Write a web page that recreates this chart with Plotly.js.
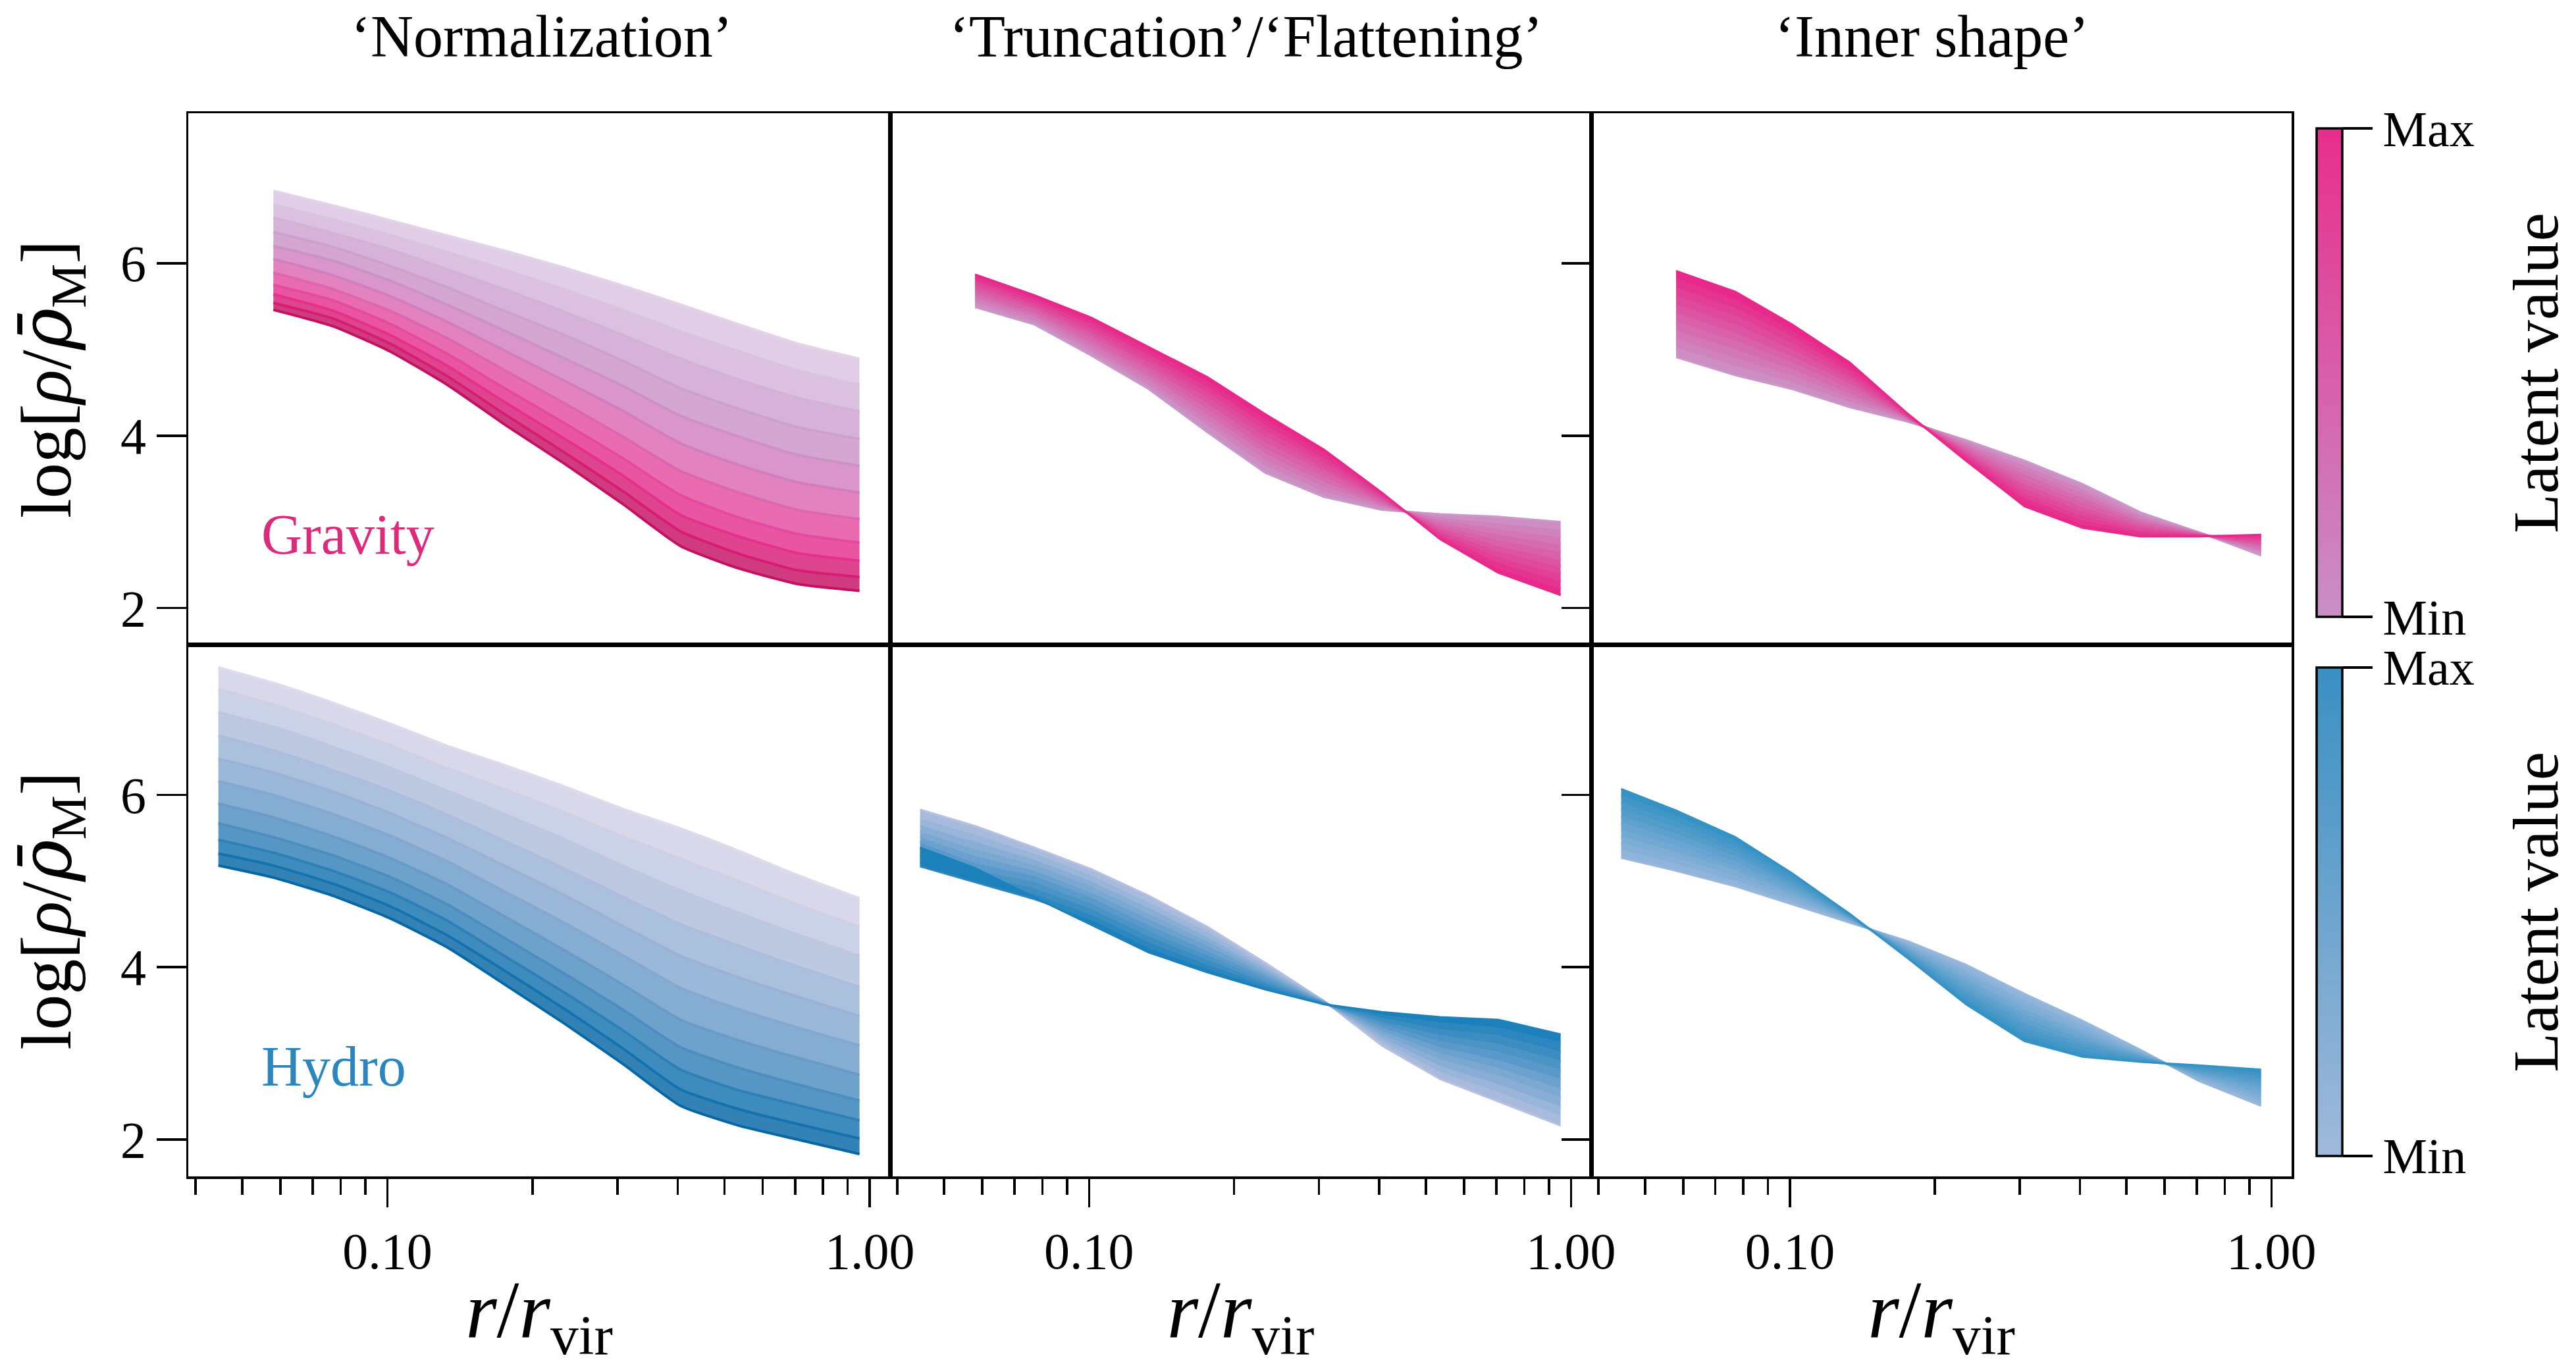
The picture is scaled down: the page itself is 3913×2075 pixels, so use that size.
<!DOCTYPE html>
<html>
<head>
<meta charset="utf-8">
<script src="https://cdn.plot.ly/plotly-3.0.1.min.js"></script>
<style>
  html, body { margin: 0; padding: 0; background: #fff; }
  #chart { width: 3913px; height: 2075px; }
</style>
</head>
<body>
<div id="chart"></div>
<script>
// Radial sampling points (r / r_vir) of the decoded density profiles
const rGravity = [0.058, 0.077, 0.101, 0.133, 0.176, 0.232, 0.307, 0.405, 0.535, 0.706, 0.952];
const rHydro = [0.0446, 0.058, 0.077, 0.101, 0.133, 0.176, 0.232, 0.307, 0.405, 0.535, 0.706, 0.952];

// log[rho / rho_M] profiles, one row per latent value from Min to Max
const gravityNormalization = [
  [6.84, 6.67, 6.50, 6.32, 6.14, 5.95, 5.74, 5.52, 5.29, 5.07, 4.89],
  [6.68, 6.51, 6.33, 6.13, 5.92, 5.70, 5.46, 5.21, 4.98, 4.76, 4.59],
  [6.53, 6.35, 6.16, 5.93, 5.69, 5.44, 5.17, 4.89, 4.65, 4.44, 4.28],
  [6.36, 6.19, 5.97, 5.72, 5.44, 5.17, 4.87, 4.55, 4.31, 4.10, 3.96],
  [6.20, 6.03, 5.80, 5.52, 5.21, 4.90, 4.58, 4.23, 3.99, 3.78, 3.65],
  [6.05, 5.86, 5.62, 5.32, 4.98, 4.64, 4.29, 3.91, 3.66, 3.46, 3.34],
  [5.89, 5.70, 5.45, 5.13, 4.75, 4.38, 3.99, 3.59, 3.34, 3.14, 3.03],
  [5.75, 5.57, 5.30, 4.95, 4.54, 4.15, 3.74, 3.31, 3.05, 2.86, 2.76],
  [5.64, 5.45, 5.17, 4.81, 4.38, 3.97, 3.54, 3.08, 2.83, 2.64, 2.55],
  [5.54, 5.36, 5.07, 4.69, 4.24, 3.81, 3.36, 2.89, 2.63, 2.44, 2.36],
  [5.46, 5.27, 4.98, 4.59, 4.12, 3.68, 3.21, 2.72, 2.46, 2.28, 2.20]
];
const gravityTruncation = [
  [5.49, 5.29, 4.93, 4.54, 4.04, 3.57, 3.29, 3.14, 3.09, 3.06, 3.00],
  [5.53, 5.32, 4.97, 4.58, 4.11, 3.64, 3.34, 3.16, 3.06, 2.99, 2.92],
  [5.57, 5.36, 5.01, 4.63, 4.17, 3.71, 3.40, 3.18, 3.03, 2.93, 2.83],
  [5.60, 5.39, 5.06, 4.68, 4.23, 3.78, 3.45, 3.20, 3.00, 2.86, 2.75],
  [5.64, 5.42, 5.10, 4.73, 4.30, 3.84, 3.51, 3.22, 2.97, 2.80, 2.66],
  [5.68, 5.46, 5.15, 4.78, 4.36, 3.91, 3.57, 3.24, 2.94, 2.73, 2.57],
  [5.72, 5.49, 5.19, 4.83, 4.43, 3.98, 3.62, 3.26, 2.91, 2.67, 2.49],
  [5.76, 5.52, 5.23, 4.88, 4.49, 4.05, 3.68, 3.28, 2.88, 2.60, 2.40],
  [5.79, 5.56, 5.28, 4.93, 4.55, 4.11, 3.73, 3.30, 2.85, 2.54, 2.32],
  [5.83, 5.59, 5.32, 4.98, 4.62, 4.18, 3.79, 3.32, 2.83, 2.47, 2.23],
  [5.87, 5.63, 5.37, 5.03, 4.68, 4.25, 3.84, 3.34, 2.80, 2.41, 2.15]
];
const gravityInnerShape = [
  [4.91, 4.70, 4.54, 4.33, 4.16, 3.95, 3.71, 3.44, 3.11, 2.88, 2.61],
  [5.01, 4.80, 4.61, 4.38, 4.17, 3.93, 3.66, 3.39, 3.08, 2.88, 2.64],
  [5.11, 4.89, 4.69, 4.43, 4.18, 3.91, 3.61, 3.34, 3.05, 2.87, 2.66],
  [5.21, 4.99, 4.76, 4.48, 4.19, 3.88, 3.56, 3.29, 3.02, 2.87, 2.68],
  [5.31, 5.09, 4.84, 4.54, 4.20, 3.86, 3.50, 3.24, 3.00, 2.86, 2.71],
  [5.41, 5.18, 4.91, 4.59, 4.21, 3.83, 3.45, 3.18, 2.97, 2.86, 2.73],
  [5.51, 5.28, 4.99, 4.64, 4.21, 3.81, 3.40, 3.13, 2.94, 2.85, 2.75],
  [5.61, 5.38, 5.06, 4.69, 4.22, 3.79, 3.34, 3.08, 2.91, 2.85, 2.78],
  [5.71, 5.47, 5.14, 4.74, 4.23, 3.76, 3.29, 3.03, 2.89, 2.84, 2.80],
  [5.81, 5.57, 5.21, 4.79, 4.24, 3.74, 3.24, 2.98, 2.86, 2.84, 2.83],
  [5.91, 5.67, 5.29, 4.85, 4.25, 3.71, 3.18, 2.93, 2.83, 2.83, 2.85]
];
const hydroNormalization = [
  [7.48, 7.30, 7.07, 6.83, 6.57, 6.34, 6.10, 5.84, 5.61, 5.35, 5.07, 4.80],
  [7.23, 7.05, 6.82, 6.58, 6.31, 6.06, 5.80, 5.52, 5.26, 5.00, 4.73, 4.47],
  [6.96, 6.79, 6.56, 6.32, 6.05, 5.77, 5.49, 5.18, 4.89, 4.63, 4.38, 4.13],
  [6.69, 6.52, 6.29, 6.05, 5.77, 5.46, 5.15, 4.82, 4.50, 4.25, 4.01, 3.77],
  [6.42, 6.26, 6.04, 5.79, 5.50, 5.17, 4.84, 4.48, 4.13, 3.88, 3.66, 3.43],
  [6.16, 6.00, 5.78, 5.53, 5.23, 4.87, 4.52, 4.14, 3.76, 3.51, 3.30, 3.09],
  [5.90, 5.74, 5.52, 5.27, 4.96, 4.58, 4.20, 3.80, 3.39, 3.15, 2.95, 2.75],
  [5.67, 5.51, 5.30, 5.05, 4.73, 4.33, 3.93, 3.51, 3.07, 2.83, 2.64, 2.45],
  [5.48, 5.33, 5.12, 4.87, 4.54, 4.12, 3.71, 3.27, 2.81, 2.57, 2.40, 2.22],
  [5.32, 5.18, 4.97, 4.71, 4.37, 3.95, 3.52, 3.06, 2.58, 2.35, 2.18, 2.01],
  [5.18, 5.04, 4.83, 4.57, 4.23, 3.79, 3.35, 2.88, 2.39, 2.16, 2.00, 1.83]
];
const hydroTruncation = [
  [5.83, 5.64, 5.39, 5.14, 4.83, 4.47, 4.05, 3.61, 3.09, 2.70, 2.44, 2.16],
  [5.74, 5.55, 5.33, 5.08, 4.76, 4.42, 4.02, 3.61, 3.13, 2.77, 2.54, 2.26],
  [5.66, 5.47, 5.26, 5.01, 4.70, 4.36, 3.99, 3.60, 3.17, 2.84, 2.63, 2.37],
  [5.58, 5.38, 5.20, 4.95, 4.63, 4.31, 3.96, 3.60, 3.21, 2.92, 2.73, 2.48],
  [5.52, 5.30, 5.13, 4.88, 4.57, 4.26, 3.93, 3.59, 3.25, 2.99, 2.82, 2.58],
  [5.46, 5.22, 5.07, 4.82, 4.50, 4.20, 3.90, 3.59, 3.29, 3.06, 2.91, 2.69],
  [5.38, 5.14, 5.00, 4.75, 4.43, 4.15, 3.86, 3.59, 3.33, 3.13, 3.01, 2.80],
  [5.30, 5.08, 4.93, 4.69, 4.37, 4.10, 3.83, 3.58, 3.36, 3.20, 3.10, 2.90],
  [5.22, 5.01, 4.86, 4.62, 4.30, 4.04, 3.80, 3.58, 3.40, 3.27, 3.20, 3.01],
  [5.17, 4.99, 4.79, 4.56, 4.23, 3.99, 3.77, 3.57, 3.44, 3.35, 3.29, 3.12],
  [5.39, 5.15, 4.81, 4.49, 4.17, 3.94, 3.74, 3.57, 3.48, 3.42, 3.39, 3.22]
];
const hydroInnerShape = [
  [5.27, 5.12, 4.94, 4.73, 4.52, 4.30, 4.03, 3.69, 3.38, 3.04, 2.68, 2.39],
  [5.35, 5.19, 4.99, 4.76, 4.53, 4.28, 3.98, 3.63, 3.34, 3.03, 2.69, 2.43],
  [5.43, 5.26, 5.05, 4.80, 4.54, 4.26, 3.94, 3.58, 3.29, 3.01, 2.71, 2.47],
  [5.51, 5.33, 5.11, 4.84, 4.55, 4.24, 3.89, 3.52, 3.25, 3.00, 2.73, 2.51],
  [5.59, 5.40, 5.16, 4.87, 4.56, 4.22, 3.85, 3.47, 3.21, 2.98, 2.75, 2.56],
  [5.67, 5.47, 5.22, 4.91, 4.57, 4.20, 3.80, 3.42, 3.17, 2.97, 2.77, 2.60],
  [5.75, 5.54, 5.28, 4.95, 4.58, 4.18, 3.75, 3.36, 3.13, 2.96, 2.78, 2.64],
  [5.83, 5.61, 5.33, 4.98, 4.59, 4.16, 3.71, 3.31, 3.09, 2.94, 2.80, 2.68],
  [5.91, 5.68, 5.39, 5.02, 4.60, 4.14, 3.66, 3.25, 3.04, 2.93, 2.82, 2.72],
  [5.99, 5.75, 5.45, 5.06, 4.61, 4.12, 3.62, 3.20, 3.00, 2.91, 2.84, 2.76],
  [6.07, 5.82, 5.51, 5.09, 4.62, 4.10, 3.57, 3.14, 2.96, 2.90, 2.86, 2.81]
];

// Tick labels
const panelTitles = ['\u2018Normalization\u2019', '\u2018Truncation\u2019/\u2018Flattening\u2019', '\u2018Inner shape\u2019'];
const rTickVals = [0.1, 1];
const rTickText = ['0.10', '1.00'];
const rMinorVals = [0.04, 0.05, 0.06, 0.07, 0.08, 0.09, 0.2, 0.3, 0.4, 0.5, 0.6, 0.7, 0.8, 0.9];
const densityTickVals = [2, 4, 6];
const latentTickText = ['Min', 'Max'];

// Line colours, Min -> Max latent value
const pinkWide = ['#e1d3e8', '#dac3e0', '#d3b2d8', '#cda1cf', '#ca92c7', '#d27ebe', '#dc66b0', '#e44a9f', '#e5308c', '#d81c76', '#c51061'];
const pinkNarrow = ['#ca99ca', '#cd8ec4', '#d082bd', '#d377b7', '#d66cb0', '#d961aa', '#dc55a4', '#df4a9d', '#e23f97', '#e53390', '#e8288a'];
const blueWide = ['#dddbec', '#cfd0e5', '#bfc7e0', '#adbddb', '#99b2d6', '#85a8d0', '#6a9bc8', '#4d8dc0', '#2f7fb8', '#1472ae', '#0567a5'];
const blueTrunc = ['#b8c2e0', '#a8bbdc', '#99b5d9', '#89aed5', '#7aa8d1', '#6aa1ce', '#5a9aca', '#4b94c6', '#3b8dc2', '#2c87bf', '#1c80bb'];
const blueInner = ['#9ab8dc', '#90b4da', '#86b0d7', '#7cadd5', '#72a9d2', '#68a5d0', '#5ea1ce', '#549dcb', '#4a9ac9', '#4096c6', '#3692c4'];

const FONT = 'Liberation Serif, DejaVu Serif, serif';
const W = 3913, H = 2075;

function hexToRgba(hex, a) {
  const n = parseInt(hex.slice(1), 16);
  return 'rgba(' + ((n >> 16) & 255) + ',' + ((n >> 8) & 255) + ',' + (n & 255) + ',' + a + ')';
}

const traces = [];

// Family of curves: each profile filled to the previous one so the sweep reads as a band
function addFamily(rows, r, colors, xa, ya, lineWidth, fillAlpha, smooth) {
  rows.forEach((row, i) => {
    traces.push({
      type: 'scatter', mode: 'lines', x: r, y: row, xaxis: xa, yaxis: ya,
      line: { color: colors[i], width: lineWidth, shape: smooth ? 'spline' : 'linear', smoothing: smooth || 0 },
      fill: i === 0 ? 'none' : 'tonexty',
      fillcolor: hexToRgba(colors[i], fillAlpha),
      hoverinfo: 'skip', showlegend: false
    });
  });
}

addFamily(gravityNormalization, rGravity, pinkWide, 'x', 'y', 4, 0.82, 0.5);
addFamily(gravityTruncation, rGravity, pinkNarrow, 'x2', 'y2', 3, 1, 0);
addFamily(gravityInnerShape, rGravity, pinkNarrow, 'x3', 'y3', 3, 1, 0);
addFamily(hydroNormalization, rHydro, blueWide, 'x4', 'y4', 4, 0.82, 0.5);
addFamily(hydroTruncation, rHydro, blueTrunc, 'x5', 'y5', 3, 1, 0);
addFamily(hydroInnerShape, rHydro, blueInner, 'x6', 'y6', 3, 1, 0);

// Colour bars for the latent value (markers sit below the axis range, only the bar shows)
function colorbarTrace(xa, ya, scale, yCenter) {
  return {
    type: 'scatter', mode: 'markers', x: [0.1, 0.1], y: [-50, -50], xaxis: xa, yaxis: ya,
    hoverinfo: 'skip', showlegend: false,
    marker: {
      size: 1, color: [0, 1], cmin: 0, cmax: 1, colorscale: scale, showscale: true,
      colorbar: {
        x: 1.0119, xanchor: 'left', y: yCenter, yanchor: 'middle',
        len: 742, lenmode: 'pixels', thickness: 39, thicknessmode: 'pixels',
        xpad: 0, ypad: 0, outlinewidth: 3.5, outlinecolor: '#000',
        ticks: 'outside', ticklen: 45, tickwidth: 3.5, tickcolor: '#000',
        tickvals: [0, 1], ticktext: latentTickText,
        tickfont: { family: FONT, size: 76, color: '#000' }
      }
    }
  };
}
traces.push(colorbarTrace('x3', 'y3', [[0, '#c98fc6'], [1, '#e72e8c']], 0.756));
traces.push(colorbarTrace('x6', 'y6', [[0, '#a0b9da'], [1, '#3a90c2']], 0.249));

const LW = 3.5;
const yRange = [1.57, 7.74];
const xRange = [-1.413, 0.042];
const xDom = [[0, 0.33365], [0.33365, 0.66698], [0.66698, 1]];
const topDom = [0.4997, 1];
const botDom = [0, 0.4997];

function xAxis(dom, anchor, bottomRow) {
  const ax = {
    type: 'log', range: xRange, domain: dom, anchor: anchor,
    showline: true, linecolor: '#000', linewidth: LW, mirror: true,
    showgrid: false, zeroline: false,
    tickvals: rTickVals, ticktext: rTickText,
    tickfont: { family: FONT, size: 78, color: '#000' }
  };
  if (bottomRow) {
    Object.assign(ax, {
      ticks: 'outside', ticklen: 43, tickwidth: LW, tickcolor: '#000',
      minor: { tickvals: rMinorVals, ticks: 'outside', ticklen: 24, tickwidth: LW, tickcolor: '#000', showgrid: false },
      title: { text: '<i>r</i>/<i>r</i><sub>vir</sub>', font: { family: FONT, size: 122, color: '#000' }, standoff: 28 }
    });
  } else {
    Object.assign(ax, { ticks: '', showticklabels: false });
  }
  return ax;
}

function yAxis(dom, anchor, kind) {
  const ax = {
    range: yRange, domain: dom, anchor: anchor,
    showline: true, linecolor: '#000', linewidth: LW, mirror: true,
    showgrid: false, zeroline: false, tickvals: densityTickVals,
    tickfont: { family: FONT, size: 78, color: '#000' }
  };
  if (kind === 'left') {
    Object.assign(ax, {
      ticks: 'outside', ticklen: 45, tickwidth: LW, tickcolor: '#000',
      title: {
        text: 'log[<i>\u03C1</i>/<span style="font-family:DejaVu Serif"><i>\u03C1\u0304</i></span><sub>M</sub>]',
        font: { family: FONT, size: 108, color: '#000' }, standoff: 40
      }
    });
  } else if (kind === 'right') {
    Object.assign(ax, { side: 'right', ticks: 'inside', ticklen: 45, tickwidth: LW, tickcolor: '#000', showticklabels: false });
  } else {
    Object.assign(ax, { ticks: '', showticklabels: false });
  }
  return ax;
}

// Inward ticks on the right edge of the first column
function rightTicks(overlay, anchor) {
  return {
    range: yRange, overlaying: overlay, anchor: anchor, side: 'right',
    showline: false, showgrid: false, zeroline: false, tickvals: densityTickVals,
    ticks: 'inside', ticklen: 45, tickwidth: LW, tickcolor: '#000', showticklabels: false
  };
}

const annotations = panelTitles.map((t, i) => ({
  text: t, xref: 'paper', yref: 'paper', x: [0.168, 0.503, 0.829][i], y: 1.0724,
  xanchor: 'center', yanchor: 'middle', showarrow: false,
  font: { family: FONT, size: 90, color: '#000' }
}));
annotations.push({
  text: 'Gravity', xref: 'paper', yref: 'paper', x: 0.0341, y: 0.6037,
  xanchor: 'left', yanchor: 'middle', showarrow: false,
  font: { family: FONT, size: 86, color: '#dd2a7b' }
});
annotations.push({
  text: 'Hydro', xref: 'paper', yref: 'paper', x: 0.0341, y: 0.1034,
  xanchor: 'left', yanchor: 'middle', showarrow: false,
  font: { family: FONT, size: 86, color: '#2b86c0' }
});
// Colour-bar captions
[0.756, 0.249].forEach(yc => annotations.push({
  text: 'Latent value', xref: 'paper', yref: 'paper', x: 1.1161, y: yc,
  xanchor: 'center', yanchor: 'middle', textangle: -90, showarrow: false,
  font: { family: FONT, size: 98, color: '#000' }
}));

const layout = {
  width: W, height: H,
  margin: { l: 286, r: 432, t: 172, b: 288 },
  paper_bgcolor: '#fff', plot_bgcolor: 'rgba(0,0,0,0)',
  showlegend: false,
  font: { family: FONT, color: '#000' },
  xaxis: xAxis(xDom[0], 'y', false),
  xaxis2: xAxis(xDom[1], 'y2', false),
  xaxis3: xAxis(xDom[2], 'y3', false),
  xaxis4: xAxis(xDom[0], 'y4', true),
  xaxis5: xAxis(xDom[1], 'y5', true),
  xaxis6: xAxis(xDom[2], 'y6', true),
  yaxis: yAxis(topDom, 'x', 'left'),
  yaxis2: yAxis(topDom, 'x2', 'right'),
  yaxis3: yAxis(topDom, 'x3', 'none'),
  yaxis4: yAxis(botDom, 'x4', 'left'),
  yaxis5: yAxis(botDom, 'x5', 'right'),
  yaxis6: yAxis(botDom, 'x6', 'none'),
  yaxis7: rightTicks('y', 'x'),
  yaxis8: rightTicks('y4', 'x4'),
  annotations: annotations
};

Plotly.newPlot('chart', traces, layout, { staticPlot: true, displayModeBar: false });
</script>
</body>
</html>
